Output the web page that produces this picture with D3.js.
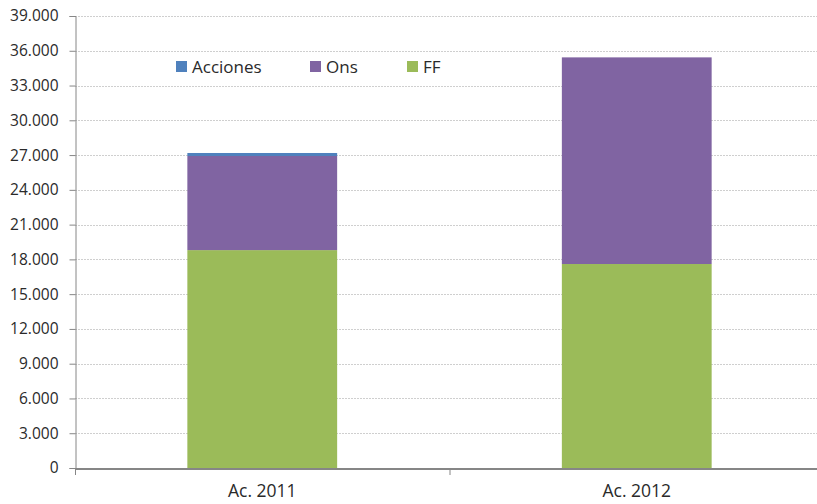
<!DOCTYPE html>
<html>
<head>
<meta charset="utf-8">
<script src="https://cdn.jsdelivr.net/npm/d3@7"></script>
<style>
  body { margin: 0; background: #fff; }
  text { font-family: "Open Sans", "DejaVu Sans", sans-serif; }
</style>
</head>
<body>
<div id="chart"></div>
<script>
// data
const categories = ["Ac. 2011", "Ac. 2012"];
const seriesNames = ["Acciones", "Ons", "FF"];
const ffValues = [18800, 17600];
const onsValues = [8120, 17830];
const accionesValues = [260, 0];
const yTicks = [0, 3000, 6000, 9000, 12000, 15000, 18000, 21000, 24000, 27000, 30000, 33000, 36000, 39000];

const colors = {Acciones: "#4f81bd", Ons: "#8064a2", FF: "#9bbb59"};

const width = 817, height = 504;
const margin = {left: 75, top: 16, bottom: 36};
const plotRight = 824; // plot runs slightly past the window edge

const rows = categories.map((c, i) => ({
  cat: c, FF: ffValues[i], Ons: onsValues[i], Acciones: accionesValues[i]
}));
// stack from bottom: FF, Ons, Acciones
const stack = d3.stack().keys(["FF", "Ons", "Acciones"]);
const layers = stack(rows);

const svg = d3.select("#chart").append("svg")
  .attr("width", width)
  .attr("height", height);

const x = d3.scaleBand()
  .domain(categories)
  .range([margin.left, plotRight])
  .paddingInner(0.6)
  .paddingOuter(0.3);

const y = d3.scaleLinear()
  .domain([0, 39000])
  .range([height - margin.bottom, margin.top]);

// gridlines
svg.append("g")
  .selectAll("line")
  .data(yTicks.filter(d => d > 0))
  .enter().append("line")
  .attr("x1", margin.left)
  .attr("x2", plotRight)
  .attr("y1", d => Math.round(y(d)) + 0.5)
  .attr("y2", d => Math.round(y(d)) + 0.5)
  .attr("stroke", "#cfcfcf")
  .attr("stroke-dasharray", "2,1");

// bars
svg.append("g")
  .selectAll("g")
  .data(layers)
  .enter().append("g")
  .attr("fill", d => colors[d.key])
  .selectAll("rect")
  .data(d => d)
  .enter().append("rect")
  .attr("x", d => x(d.data.cat))
  .attr("width", x.bandwidth())
  .attr("y", d => y(d[1]))
  .attr("height", d => Math.max(0, y(d[0]) - y(d[1])));

// y axis
const yAxis = svg.append("g")
  .attr("transform", `translate(${margin.left + 0.5},0)`)
  .call(d3.axisLeft(y).tickValues(yTicks).tickSize(6).tickPadding(11)
    .tickFormat(d => d3.format(",")(d).replace(/,/g, ".")));
yAxis.select(".domain").attr("stroke", "#868686");
yAxis.selectAll(".tick line").attr("stroke", "#868686");
yAxis.selectAll("text")
  .attr("fill", "#2a2a2a")
  .style("font-size", "15.5px");

// x axis
const xAxis = svg.append("g")
  .attr("transform", `translate(0,${height - margin.bottom + 0.5})`)
  .call(d3.axisBottom(x).tickSize(0).tickPadding(16));
xAxis.select(".domain").attr("stroke", "#868686").attr("stroke-width", 2);
xAxis.selectAll("text")
  .attr("fill", "#2a2a2a")
  .style("font-size", "17.5px");
// category boundary ticks
svg.append("g")
  .selectAll("line")
  .data([margin.left, (margin.left + plotRight) / 2])
  .enter().append("line")
  .attr("x1", d => d + 0.5).attr("x2", d => d + 0.5)
  .attr("y1", height - margin.bottom)
  .attr("y2", height - margin.bottom + 7)
  .attr("stroke", "#868686");

// legend
const legendX = [176, 310, 407];
const legend = svg.append("g").attr("id", "legend");
const items = legend.selectAll("g")
  .data(seriesNames)
  .enter().append("g")
  .attr("transform", (d, i) => `translate(${legendX[i]},61)`);
items.append("rect")
  .attr("width", 11)
  .attr("height", 11)
  .attr("fill", d => colors[d]);
items.append("text")
  .attr("x", 16)
  .attr("y", 6)
  .attr("dy", "0.35em")
  .attr("fill", "#2a2a2a")
  .style("font-size", "17px")
  .text(d => d);
</script>
</body>
</html>
